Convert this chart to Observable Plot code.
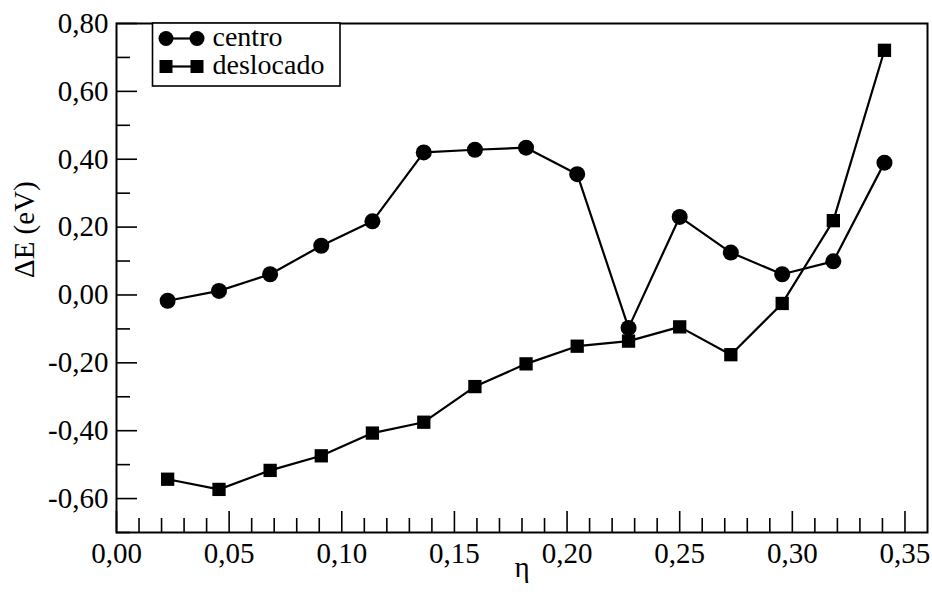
<!DOCTYPE html>
<html>
<head>
<meta charset="utf-8">
<script src="https://cdn.jsdelivr.net/npm/d3@7"></script>
<script src="https://cdn.jsdelivr.net/npm/@observablehq/plot@0.6"></script>
<style>
  html, body { margin: 0; padding: 0; background: #fff; }
  #chart svg { display: block; }
</style>
</head>
<body>
<div id="chart"></div>
<script>
// eta values (n/44)
const eta = [0.0227, 0.0455, 0.0682, 0.0909, 0.1136, 0.1364, 0.1591, 0.1818, 0.2045, 0.2273, 0.2500, 0.2727, 0.2955, 0.3182, 0.3409];
const centro = [-0.017, 0.012, 0.061, 0.145, 0.217, 0.420, 0.428, 0.434, 0.356, -0.097, 0.230, 0.125, 0.061, 0.099, 0.390];
const deslocado = [-0.543, -0.573, -0.517, -0.474, -0.407, -0.375, -0.270, -0.203, -0.151, -0.136, -0.094, -0.176, -0.025, 0.219, 0.721];

const xMajor = [0, 0.05, 0.10, 0.15, 0.20, 0.25, 0.30, 0.35];
const xMinor = d3.range(1, 36).filter(i => i % 5 !== 0).map(i => i / 100);
const yMajor = [-0.6, -0.4, -0.2, 0, 0.2, 0.4, 0.6, 0.8];
const yMinor = [-0.7, -0.5, -0.3, -0.1, 0.1, 0.3, 0.5, 0.7];

const seriesNames = ["centro", "deslocado"];
const xLabel = "η";
const yLabel = "ΔE (eV)";

const fmt = d => d.toFixed(2).replace(".", ",");
const FONT = "serif";

const dataC = eta.map((x, i) => ({x, y: centro[i]}));
const dataD = eta.map((x, i) => ({x, y: deslocado[i]}));

const chart = Plot.plot({
  width: 932,
  height: 592,
  marginLeft: 116,
  marginRight: 5,
  marginTop: 23,
  marginBottom: 60,
  style: {fontFamily: FONT, fontSize: "29px", color: "#000", background: "#fff"},
  x: {domain: [0, 0.36]},
  y: {domain: [-0.7, 0.8]},
  marks: [
    // ticks pointing inward
    Plot.axisX({ticks: xMajor, tickSize: 21, dy: -21, tickFormat: () => "", label: null, strokeWidth: 1.6}),
    Plot.axisX({ticks: xMinor, tickSize: 14, dy: -14, tickFormat: () => "", label: null, strokeWidth: 1.6}),
    Plot.axisY({ticks: yMajor, tickSize: 21, dx: 21, tickFormat: () => "", label: null, strokeWidth: 1.6}),
    Plot.axisY({ticks: yMinor, tickSize: 14, dx: 14, tickFormat: () => "", label: null, strokeWidth: 1.6}),
    // tick labels
    Plot.axisX({ticks: xMajor, tickSize: 0, tickPadding: 10, tickFormat: fmt, label: null, fontSize: 29, fontFamily: FONT}),
    Plot.axisY({ticks: yMajor, tickSize: 0, tickPadding: 8, tickFormat: fmt, label: null, fontSize: 29, fontFamily: FONT}),
    // axis titles
    Plot.text([xLabel], {frameAnchor: "bottom", dy: 44, text: d => d, fontSize: 29, fontFamily: FONT}),
    Plot.text([yLabel], {frameAnchor: "left", dx: -92, rotate: -90, text: d => d, fontSize: 29, fontFamily: FONT}),
    // series
    Plot.line(dataC, {x: "x", y: "y", stroke: "#000", strokeWidth: 2.2}),
    Plot.line(dataD, {x: "x", y: "y", stroke: "#000", strokeWidth: 2.2}),
    Plot.dot(dataC, {x: "x", y: "y", r: 8, fill: "#000", symbol: "circle"}),
    Plot.dot(dataD, {x: "x", y: "y", r: 7.5, fill: "#000", symbol: "square"}),
    Plot.frame({stroke: "#000", strokeWidth: 2})
  ]
});

document.getElementById("chart").appendChild(chart);

// Legend box inside the plot area
const svg = d3.select(chart);
const lg = svg.append("g").attr("class", "legend").attr("text-anchor", "start");
lg.append("rect")
  .attr("x", 152.5).attr("y", 23).attr("width", 187.5).attr("height", 63)
  .attr("fill", "#fff").attr("stroke", "#000").attr("stroke-width", 1.6);
const rows = [
  {name: seriesNames[0], cy: 38.5, sym: "circle"},
  {name: seriesNames[1], cy: 66.5, sym: "square"}
];
rows.forEach(r => {
  lg.append("line").attr("x1", 166).attr("x2", 197).attr("y1", r.cy).attr("y2", r.cy)
    .attr("stroke", "#000").attr("stroke-width", 2.2);
  [166, 197].forEach(cx => {
    if (r.sym === "circle") {
      lg.append("circle").attr("cx", cx).attr("cy", r.cy).attr("r", 7.5).attr("fill", "#000");
    } else {
      lg.append("rect").attr("x", cx - 6.5).attr("y", r.cy - 6.5).attr("width", 13).attr("height", 13).attr("fill", "#000");
    }
  });
  lg.append("text").attr("x", 212.5).attr("y", r.cy + 7.5)
    .attr("text-anchor", "start")
    .attr("font-family", FONT).attr("font-size", 28).attr("fill", "#000")
    .text(r.name);
});
</script>
</body>
</html>
